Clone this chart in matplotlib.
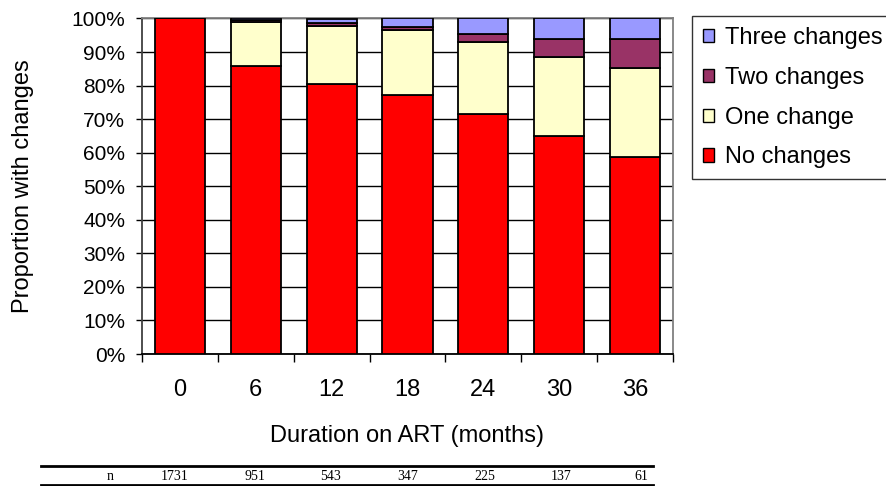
import matplotlib
matplotlib.use("Agg")
import matplotlib.pyplot as plt
from matplotlib.patches import Patch
from matplotlib.lines import Line2D
import numpy as np

months = ["0", "6", "12", "18", "24", "30", "36"]
no_changes = [100, 85.8, 80.6, 77.2, 71.4, 65.1, 58.7]
one_change = [0, 13.1, 17.1, 19.4, 21.7, 23.4, 26.5]
two_changes = [0, 0.7, 1.1, 1.0, 2.4, 5.3, 8.6]
three_changes = [0, 0.4, 1.2, 2.4, 4.5, 6.2, 6.2]
n_values = ["1731", "951", "543", "347", "225", "137", "61"]

W, H = 887, 486
plt.rcParams['font.family'] = ['Liberation Sans', 'DejaVu Sans']
fig = plt.figure(figsize=(W / 100, H / 100), dpi=100)

def fx(px):
    return px / W

def fy(py):
    return 1 - py / H

ax = fig.add_axes([fx(142), fy(354), fx(673) - fx(142), fy(18.5) - fy(354)])

x = np.arange(len(months))
series = [
    ("No changes", no_changes, "#FF0000"),
    ("One change", one_change, "#FFFFCC"),
    ("Two changes", two_changes, "#993366"),
    ("Three changes", three_changes, "#9999FF"),
]
bottom = np.zeros(len(months))
for name, vals, col in series:
    v = np.array(vals, dtype=float)
    ax.bar(x, v, bottom=bottom, width=0.66, color=col, edgecolor="black",
           linewidth=1.3, zorder=3)
    bottom += v

ax.set_xlim(-0.5, len(months) - 0.5)
ax.set_ylim(0, 100)
ax.set_yticks(np.arange(0, 101, 10))
ax.set_yticklabels([f"{t}%" for t in range(0, 101, 10)], fontsize=15)
ax.yaxis.grid(True, color="black", linewidth=1.0, zorder=0)
ax.set_axisbelow(True)

ax.set_xticks(np.arange(-0.5, len(months), 1.0))
ax.set_xticklabels([])
ax.set_xticks(x, minor=True)
ax.set_xticklabels(months, minor=True, fontsize=17)
ax.tick_params(axis="x", which="major", direction="out", length=6, color="black", width=1)
ax.tick_params(axis="x", which="minor", length=0, pad=18)
ax.tick_params(axis="y", direction="out", length=4, color="black", width=1, pad=8)

for s in ax.spines.values():
    s.set_color("#808080")
    s.set_linewidth(1.3)
ax.spines["bottom"].set_color("black")
ax.spines["left"].set_color("#404040")

fig.text(fx(23), fy(186), "Proportion with changes", rotation=90,
         ha="center", va="center", fontsize=17)
fig.text(fx(407), fy(436), "Duration on ART (months)",
         ha="center", va="center", fontsize=17)

handles = [Patch(facecolor=c, edgecolor="black", linewidth=1.0, label=n)
           for n, v, c in reversed(series)]
leg = fig.legend(handles=handles, loc="upper left",
                 bbox_to_anchor=(fx(692), fy(16)), frameon=True, fancybox=False,
                 fontsize=17, handlelength=0.48, handleheight=0.48, handletextpad=0.45,
                 labelspacing=0.76, borderpad=0.45, borderaxespad=0)
leg.get_frame().set_edgecolor("black")
leg.get_frame().set_linewidth(1.0)

# n table below chart
fig.add_artist(Line2D([fx(41), fx(653)], [fy(466), fy(466)], color="black", linewidth=2.0))
fig.add_artist(Line2D([fx(41), fx(653)], [fy(485), fy(485)], color="black", linewidth=2.0))
fig.text(fx(110), fy(476), "n", ha="center", va="center", fontsize=10,
         family=["Liberation Serif", "DejaVu Serif"])
right_ends = [188, 265, 341, 418, 495, 571, 648]
for r, nv in zip(right_ends, n_values):
    fig.text(fx(r), fy(476), nv, ha="right", va="center", fontsize=10,
             family=["Liberation Serif", "DejaVu Serif"])

fig.savefig("out.png", dpi=100)
